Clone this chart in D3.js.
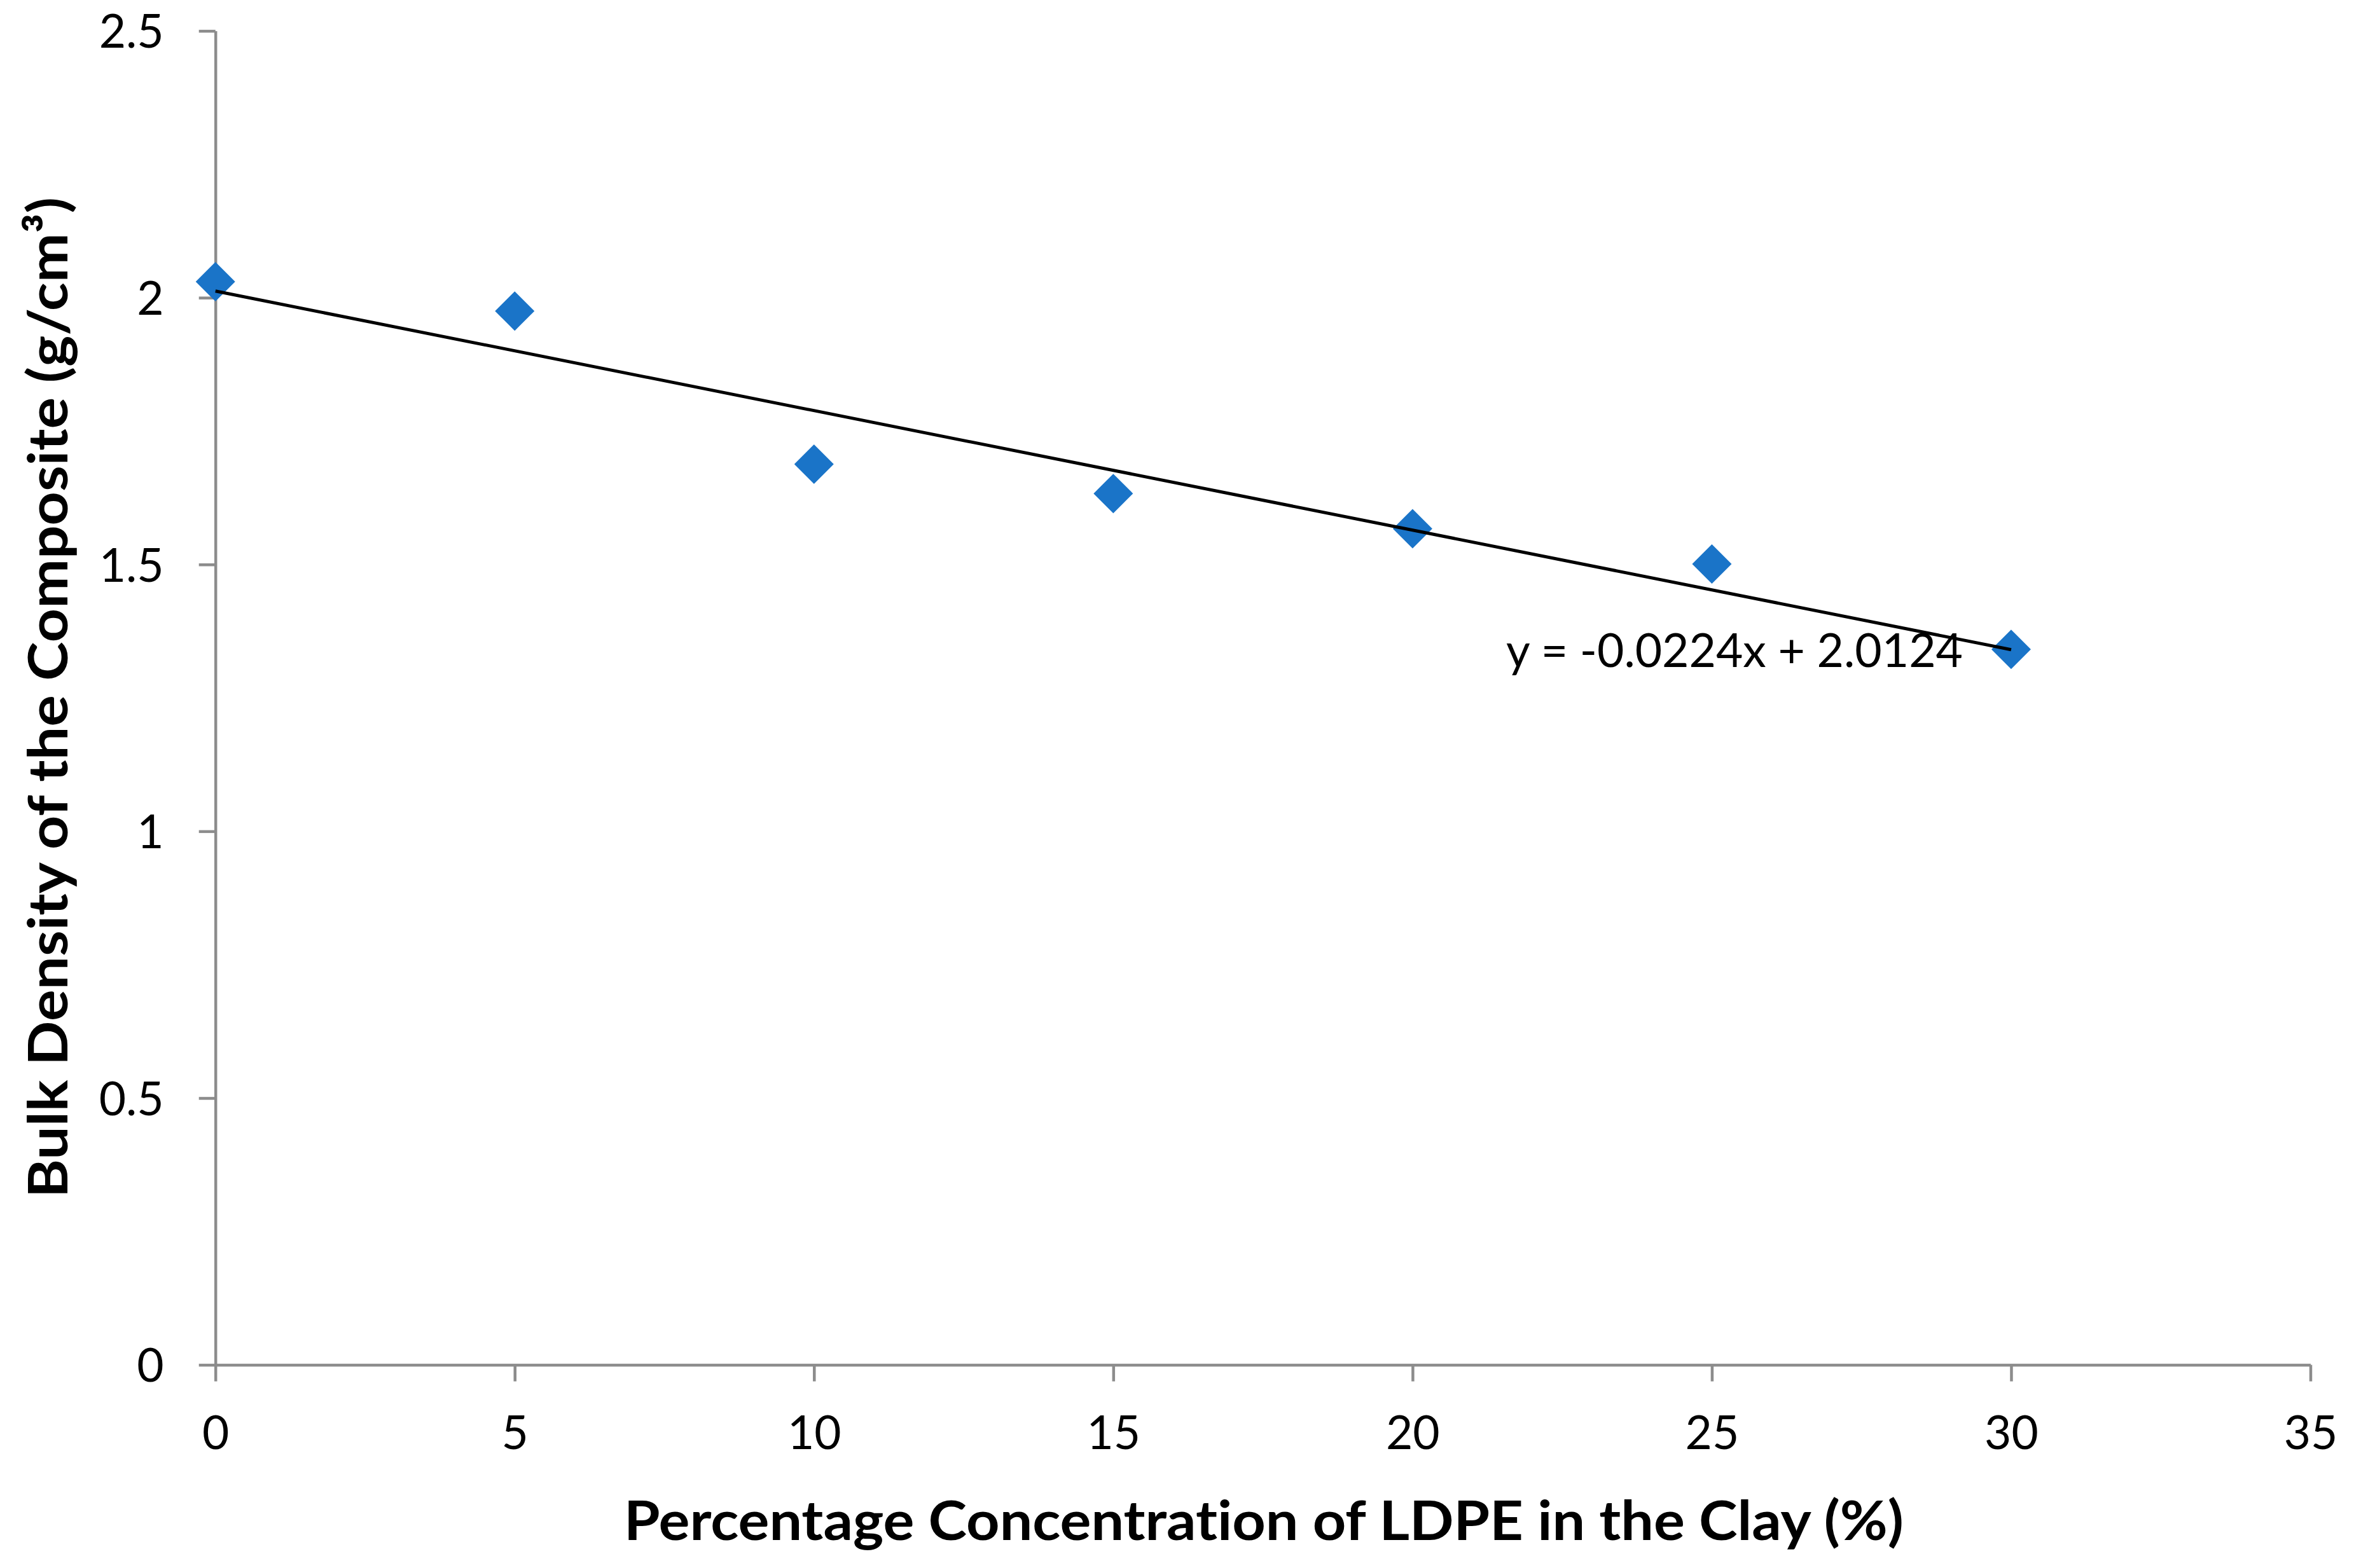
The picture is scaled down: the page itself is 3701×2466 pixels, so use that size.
<!DOCTYPE html>
<html>
<head>
<meta charset="utf-8">
<script src="https://cdn.jsdelivr.net/npm/d3@7"></script>
<style>
  body { margin: 0; background: #fff; }
  text { font-family: Lato, "Open Sans", sans-serif; font-variant-ligatures: none; font-feature-settings: "liga" 0, "clig" 0; }
</style>
</head>
<body>
<div id="chart"></div>
<script>
// LDPE concentration (%) vs bulk density (g/cm3)
const ldpe = [0, 5, 10, 15, 20, 25, 30];
const density = [2.030, 1.975, 1.688, 1.633, 1.567, 1.501, 1.341];
const xTicks = [0, 5, 10, 15, 20, 25, 30, 35];
const yTicks = [0, 0.5, 1, 1.5, 2, 2.5];
const trend = [-0.0224, 2.0124]; // slope, intercept
const eqLabel = "y = -0.0224x + 2.0124";

const width = 3701;
const height = 2466;

const svg = d3.select("#chart")
  .append("svg")
  .attr("width", width)
  .attr("height", height);

const x = d3.scaleLinear().domain([0, 35]).range([338.7, 3632.5]);
const y = d3.scaleLinear().domain([0, 2.5]).range([2146.5, 48.6]);

const axisColor = "#8c8c8c";

// y axis
const yAxis = svg.append("g")
  .attr("transform", `translate(${x(0)},0)`)
  .call(d3.axisLeft(y).tickValues(yTicks).tickSize(26).tickSizeOuter(0).tickPadding(55)
    .tickFormat(d3.format("")));

// x axis
const xAxis = svg.append("g")
  .attr("transform", `translate(0,${y(0)})`)
  .call(d3.axisBottom(x).tickValues(xTicks).tickSize(26).tickSizeOuter(0).tickPadding(54)
    .tickFormat(d3.format("")));

[yAxis, xAxis].forEach(g => {
  g.selectAll("path, line").attr("stroke", axisColor).attr("stroke-width", 4.5);
  g.selectAll("text")
    .attr("font-size", 73)
    .attr("fill", "#000")
    .style("font-family", "Lato, 'Open Sans', sans-serif");
});
yAxis.selectAll("text").attr("dy", "0.36em");
xAxis.selectAll("text").attr("dy", "0.72em");

// markers
svg.append("g")
  .selectAll("path")
  .data(ldpe)
  .enter().append("path")
  .attr("d", "M0,-31L31,0L0,31L-31,0Z")
  .attr("transform", (d, i) => `translate(${x(d)},${y(density[i])})`)
  .attr("fill", "#1a74c8");

// linear trendline
const x0 = d3.min(ldpe), x1 = d3.max(ldpe);
svg.append("line")
  .attr("x1", x(x0))
  .attr("y1", y(trend[0] * x0 + trend[1]))
  .attr("x2", x(x1))
  .attr("y2", y(trend[0] * x1 + trend[1]))
  .attr("stroke", "#000")
  .attr("stroke-width", 5);

svg.append("text")
  .attr("x", 2368)
  .attr("y", 1049)
  .attr("font-size", 73)
  .attr("textLength", 718)
  .attr("lengthAdjust", "spacingAndGlyphs")
  .text(eqLabel);

// axis titles
svg.append("text")
  .attr("x", 1987)
  .attr("y", 2422)
  .attr("text-anchor", "middle")
  .attr("font-size", 86)
  .attr("font-weight", "bold")
  .attr("textLength", 2012)
  .attr("lengthAdjust", "spacingAndGlyphs")
  .text("Percentage Concentration of LDPE in the Clay (%)");

svg.append("text")
  .attr("transform", "translate(106,1097) rotate(-90)")
  .attr("text-anchor", "middle")
  .attr("font-size", 86)
  .attr("font-weight", "bold")
  .attr("textLength", 1574)
  .attr("lengthAdjust", "spacingAndGlyphs")
  .text("Bulk Density of the Composite (g/cm³)");
</script>
</body>
</html>
